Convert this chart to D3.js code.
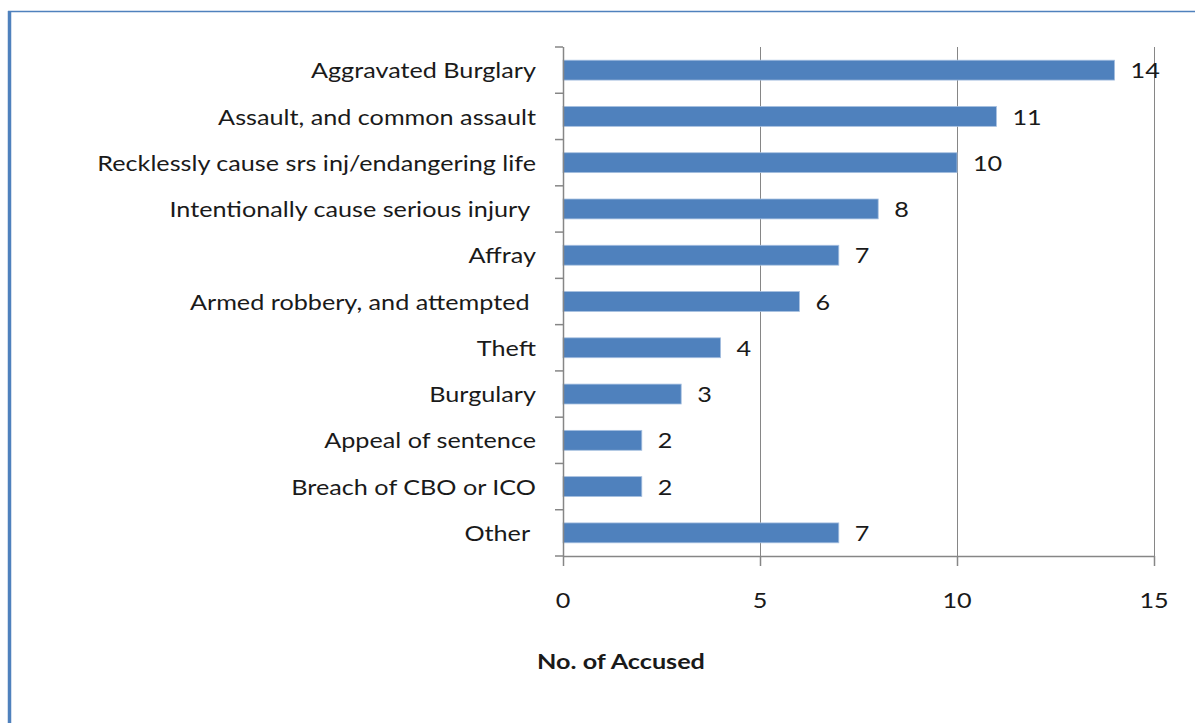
<!DOCTYPE html>
<html>
<head>
<meta charset="utf-8">
<script src="https://cdn.jsdelivr.net/npm/d3@7"></script>
<style>
  body { margin: 0; background: #fff; }
  text { font-family: Lato, "Open Sans", sans-serif; fill: #1a1a1a; white-space: pre; }
</style>
</head>
<body>
<div id="canvas"></div>
<script>
"use strict"

let svgWidth = 1195
let svgHeight = 723

// plot area edges
let plotLeft = 563
let plotRight = 1154
let plotTop = 47
let plotBottom = 556

// the original's text is a bit wider than it is tall
let stretch = 1.2

/* data */
let categories = [
    "Aggravated Burglary",
    "Assault, and common assault",
    "Recklessly cause srs inj/endangering life",
    "Intentionally cause serious injury ",
    "Affray",
    "Armed robbery, and attempted ",
    "Theft",
    "Burgulary",
    "Appeal of sentence",
    "Breach of CBO or ICO",
    "Other "
]
let counts = [14, 11, 10, 8, 7, 6, 4, 3, 2, 2, 7]
let xTicks = [0, 5, 10, 15]

let svg = d3.select("#canvas")
    .append("svg")
    .attr("width", svgWidth)
    .attr("height", svgHeight)

function place(x, y) {
    return "translate(" + x + "," + y + ") scale(" + stretch + ",1)"
}

/* frame: thin top line, thicker left line */
svg.append("line")
    .attr("x1", 8).attr("x2", svgWidth)
    .attr("y1", 11.5).attr("y2", 11.5)
    .attr("stroke", "#4f81bd")
    .attr("stroke-width", 1.5)

svg.append("line")
    .attr("x1", 9.5).attr("x2", 9.5)
    .attr("y1", 11).attr("y2", svgHeight)
    .attr("stroke", "#4f81bd")
    .attr("stroke-width", 3.5)

/* scales */
let xScale = d3.scaleLinear()
    .domain([0, 15])
    .range([plotLeft, plotRight])

let yScale = d3.scaleBand()
    .domain(categories)
    .range([plotTop, plotBottom])
    .paddingInner(0.57)
    .paddingOuter(0.285)

let axisColor = "#868686"

// gridlines
svg.selectAll("line.grid")
    .data(xTicks.filter(d => d > 0))
    .join("line")
    .attr("class", "grid")
    .attr("x1", d => xScale(d) + 0.5)
    .attr("x2", d => xScale(d) + 0.5)
    .attr("y1", plotTop)
    .attr("y2", plotBottom)
    .attr("stroke", axisColor)

/* bars */
svg.selectAll("rect.bar")
    .data(categories)
    .join("rect")
    .attr("class", "bar")
    .attr("x", plotLeft)
    .attr("y", d => yScale(d))
    .attr("width", (d, i) => xScale(counts[i]) - plotLeft)
    .attr("height", yScale.bandwidth())
    .attr("fill", "#4f81bd")
    .attr("stroke", "#a7c0e0")
    .attr("stroke-width", 0.8)

/* value labels */
svg.selectAll("text.value")
    .data(categories)
    .join("text")
    .attr("class", "value")
    .attr("transform", (d, i) => place(xScale(counts[i]) + 16, yScale(d) + yScale.bandwidth() / 2))
    .attr("dominant-baseline", "central")
    .attr("font-size", 21)
    .text((d, i) => counts[i])

/* y axis: line, ticks at band edges, labels */
svg.append("line")
    .attr("x1", plotLeft + 0.5).attr("x2", plotLeft + 0.5)
    .attr("y1", plotTop).attr("y2", plotBottom)
    .attr("stroke", axisColor)
    .attr("stroke-width", 1.5)

let step = yScale.step()
let edges = d3.range(categories.length + 1).map(i => plotTop + i * step)

svg.selectAll("line.ytick")
    .data(edges)
    .join("line")
    .attr("class", "ytick")
    .attr("x1", plotLeft - 8).attr("x2", plotLeft)
    .attr("y1", d => d).attr("y2", d => d)
    .attr("stroke", axisColor)
    .attr("stroke-width", 1.5)

svg.selectAll("text.cat")
    .data(categories)
    .join("text")
    .attr("class", "cat")
    .attr("transform", d => place(plotLeft - 27, yScale(d) + yScale.bandwidth() / 2))
    .attr("text-anchor", "end")
    .attr("dominant-baseline", "central")
    .attr("font-size", 21)
    .text(d => d)

/* x axis */
svg.append("line")
    .attr("x1", plotLeft).attr("x2", plotRight + 1)
    .attr("y1", plotBottom + 0.5).attr("y2", plotBottom + 0.5)
    .attr("stroke", axisColor)
    .attr("stroke-width", 1.5)

svg.selectAll("line.xtick")
    .data(xTicks)
    .join("line")
    .attr("class", "xtick")
    .attr("x1", d => xScale(d) + 0.5).attr("x2", d => xScale(d) + 0.5)
    .attr("y1", plotBottom).attr("y2", plotBottom + 10)
    .attr("stroke", axisColor)
    .attr("stroke-width", 1.5)

svg.selectAll("text.xlabel")
    .data(xTicks)
    .join("text")
    .attr("class", "xlabel")
    .attr("transform", d => place(xScale(d), 600))
    .attr("text-anchor", "middle")
    .attr("dominant-baseline", "central")
    .attr("font-size", 21)
    .text(d => d)

svg.append("text")
    .attr("transform", place(621, 661))
    .attr("text-anchor", "middle")
    .attr("dominant-baseline", "central")
    .attr("font-size", 21)
    .attr("font-weight", "bold")
    .text("No. of Accused")
</script>
</body>
</html>
